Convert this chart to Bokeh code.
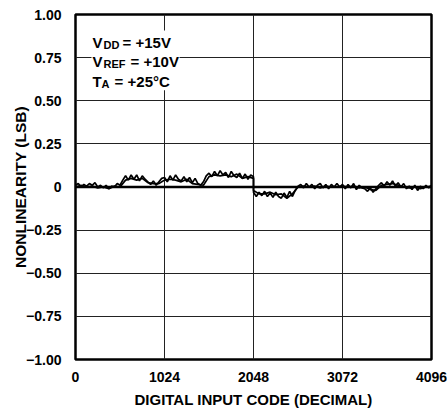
from bokeh.plotting import figure
from bokeh.models import FixedTicker, Span, Label, BoxAnnotation
from bokeh.embed import file_html
from bokeh.resources import INLINE

# ---------------- data ----------------
x_ticks = [0, 1024, 2048, 3072, 4096]
x_tick_labels = ["0", "1024", "2048", "3072", "4096"]
y_ticks = [-1.0, -0.75, -0.5, -0.25, 0.0, 0.25, 0.5, 0.75, 1.0]
y_tick_labels = ["\u22121.00", "\u22120.75", "\u22120.50", "\u22120.25", "0", "0.25", "0.50", "0.75", "1.00"]

# sweep A, codes 0..2048 step 32 (lower half) and 2048..4096 step 32 (upper half)
sweep_a_low = [0.01, 0.02, 0.0, 0.015, 0.005, 0.02, 0.01, 0.025, 0.0, 0.01, -0.005, 0.01, -0.01, 0.005, 0.0, 0.02,
               0.01, 0.04, 0.065, 0.04, 0.07, 0.045, 0.07, 0.035, 0.065, 0.045, 0.03, 0.015, 0.035, 0.01, 0.03, 0.05,
               0.055, 0.03, 0.065, 0.04, 0.07, 0.045, 0.035, 0.06, 0.03, 0.055, 0.025, 0.05, 0.02, 0.01, 0.03, 0.065,
               0.08, 0.06, 0.09, 0.065, 0.095, 0.07, 0.085, 0.055, 0.09, 0.065, 0.055, 0.08, 0.05, 0.075, 0.045, 0.07,
               0.06]
sweep_a_high = [-0.03, -0.055, -0.03, -0.05, -0.025, -0.055, -0.035, -0.06, -0.03, -0.055, -0.065, -0.035, -0.06, -0.025, -0.055, -0.02,
                0.005, 0.015, -0.005, 0.02, 0.0, 0.015, -0.01, 0.01, 0.02, -0.005, 0.015, -0.01, 0.015, 0.0, 0.02, 0.0,
                0.015, -0.01, 0.015, -0.005, 0.02, -0.015, 0.01, -0.005, -0.01, -0.025, -0.005, -0.03, -0.01, 0.01, 0.025, 0.005,
                0.03, 0.01, 0.035, 0.005, 0.025, 0.0, 0.02, -0.01, 0.005, -0.015, 0.01, -0.02, 0.005, -0.01, 0.01, -0.005,
                0.01]
# sweep B, codes step 64
sweep_b_low = [0.0, 0.01, 0.0, 0.005, -0.005, 0.0, -0.01, 0.005, 0.0, 0.04, 0.05, 0.04, 0.05, 0.025, 0.02, 0.02,
               0.04, 0.045, 0.04, 0.03, 0.045, 0.02, 0.015, 0.01, 0.06, 0.07, 0.065, 0.07, 0.06, 0.075, 0.05, 0.06,
               0.05]
sweep_b_high = [-0.02, -0.04, -0.04, -0.03, -0.045, -0.04, -0.065, -0.04, 0.0, 0.005, 0.0, 0.005, -0.005, 0.005, 0.0, 0.0,
                0.005, 0.0, 0.005, -0.005, 0.0, -0.015, -0.02, 0.01, 0.015, 0.02, 0.01, 0.0, -0.005, 0.0, -0.01, 0.0,
                0.005]

codes_a = list(range(0, 2049, 32)) + list(range(2048, 4097, 32))
vals_a = sweep_a_low + sweep_a_high
codes_b = list(range(0, 2049, 64)) + list(range(2048, 4097, 64))
vals_b = sweep_b_low + sweep_b_high

FONT = "Liberation Sans"

p = figure(width=447, height=410, x_range=(0, 4096), y_range=(-1, 1),
           output_backend="svg", toolbar_location=None,
           min_border_left=75, min_border_right=16, min_border_top=14, min_border_bottom=50)
p.background_fill_color = "white"
p.border_fill_color = "white"
p.outline_line_color = "black"
p.outline_line_width = 2.5

# grid
p.xgrid.ticker = FixedTicker(ticks=[1024, 2048, 3072])
p.ygrid.ticker = FixedTicker(ticks=[-0.75, -0.5, -0.25, 0.25, 0.5, 0.75])
for g in (p.xgrid, p.ygrid):
    g.grid_line_color = "#222222"
    g.grid_line_width = 1

# y axis
ya = p.yaxis[0]
ya.ticker = FixedTicker(ticks=y_ticks)
ya.major_label_overrides = {t: l for t, l in zip(y_ticks, y_tick_labels)}
ya.major_label_text_font = FONT
ya.major_label_text_font_style = "bold"
ya.major_label_text_font_size = "14px"
ya.major_label_text_color = "black"
ya.major_label_standoff = 8
ya.major_tick_line_color = None
ya.minor_tick_line_color = None
ya.axis_line_color = None
ya.axis_label = "NONLINEARITY (LSB)"
ya.axis_label_text_font = FONT
ya.axis_label_text_font_style = "bold"
ya.axis_label_text_font_size = "15.5px"
ya.axis_label_text_color = "black"
ya.axis_label_standoff = -6

# x axis
xa = p.xaxis[0]
xa.ticker = FixedTicker(ticks=x_ticks)
xa.major_label_overrides = {t: l for t, l in zip(x_ticks, x_tick_labels)}
xa.major_label_text_font = FONT
xa.major_label_text_font_style = "bold"
xa.major_label_text_font_size = "14px"
xa.major_label_text_color = "black"
xa.major_label_standoff = 6
xa.major_tick_line_color = None
xa.minor_tick_line_color = None
xa.axis_line_color = None
xa.axis_label = "DIGITAL INPUT CODE (DECIMAL)"
xa.axis_label_text_font = FONT
xa.axis_label_text_font_style = "bold"
xa.axis_label_text_font_size = "15px"
xa.axis_label_text_color = "black"
xa.axis_label_standoff = 6

# traces
p.line(codes_b, vals_b, line_color="black", line_width=1.7)
p.line(codes_a, vals_a, line_color="black", line_width=1.7)

# zero line
p.add_layout(Span(location=0, dimension="width", line_color="black", line_width=2.5))

# condition block
p.add_layout(BoxAnnotation(left=184, right=1197, top=0.9075, bottom=0.5607,
                           fill_color="white", fill_alpha=1.0, line_color=None))
cond = [
    ("V", "DD", "= +15V", 0.838, 322, 541),
    ("V", "REF", "= +10V", 0.728, 322, 633),
    ("T", "A", "= +25\u00b0C", 0.613, 299, 450),
]
for main, sub, rest, yy, xs, xr in cond:
    p.add_layout(Label(x=196, y=yy, text=main, text_font=FONT, text_font_style="bold",
                       text_font_size="15px", text_color="black", text_baseline="alphabetic"))
    p.add_layout(Label(x=xs, y=yy, y_offset=-3, text=sub, text_font=FONT, text_font_style="bold",
                       text_font_size="11px", text_color="black", text_baseline="alphabetic"))
    p.add_layout(Label(x=xr, y=yy, text=rest, text_font=FONT, text_font_style="bold",
                       text_font_size="15px", text_color="black", text_baseline="alphabetic"))

open("out.html", "w").write(file_html(p, INLINE))
